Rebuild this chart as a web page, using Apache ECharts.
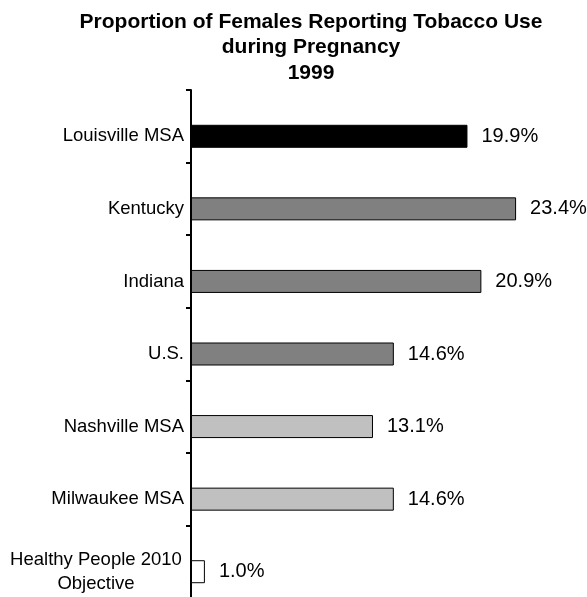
<!DOCTYPE html>
<html>
<head>
<meta charset="utf-8">
<script src="https://cdn.jsdelivr.net/npm/echarts@6/dist/echarts.min.js"></script>
<style>html,body{margin:0;padding:0;background:#fff;overflow:hidden}#c{width:587px;height:610px}</style>
</head>
<body>
<div id="c"></div>
<script>
const titleText = 'Proportion of Females Reporting Tobacco Use\nduring Pregnancy\n1999';
const categories = ['Louisville MSA', 'Kentucky', 'Indiana', 'U.S.', 'Nashville MSA', 'Milwaukee MSA', 'Healthy People 2010\nObjective'];
const values = [19.9, 23.4, 20.9, 14.6, 13.1, 14.6, 1.0];
const barColors = ['#000000', '#808080', '#808080', '#808080', '#c0c0c0', '#c0c0c0', '#ffffff'];

const FONT = 'Liberation Sans, Arial, sans-serif';
const chart = echarts.init(document.getElementById('c'));
chart.setOption({
  backgroundColor: '#ffffff',
  animation: false,
  title: {
    text: titleText,
    left: 306,
    textAlign: 'center',
    top: 4,
    textStyle: { fontFamily: FONT, fontWeight: 'bold', fontSize: 21, lineHeight: 25.5, color: '#000' }
  },
  grid: [
    { left: 191, right: 7, top: 100, bottom: 2 },
    { left: 191, right: 7, top: 90, bottom: 12 }
  ],
  xAxis: [
    { gridIndex: 0, type: 'value', min: 0, max: 28, show: false },
    { gridIndex: 1, type: 'value', min: 0, max: 28, show: false }
  ],
  yAxis: [
    {
      gridIndex: 0, type: 'category', data: categories, inverse: true,
      axisLine: { show: false }, axisTick: { show: false }, splitLine: { show: false },
      axisLabel: {
        margin: 7, color: '#000', fontFamily: FONT, fontSize: 18.5,
        formatter: function (v) {
          if (v.indexOf('\n') >= 0) {
            return v.split('\n').map(s => '{c|' + s + '}').join('\n');
          }
          return v;
        },
        rich: { c: { width: 176, align: 'center', fontFamily: FONT, fontSize: 18.5, lineHeight: 24, color: '#000' } }
      }
    },
    {
      gridIndex: 1, type: 'category', data: categories, inverse: true,
      axisLine: { show: true, lineStyle: { color: '#000', width: 2 } },
      axisTick: { show: true, inside: false, length: 5, lineStyle: { color: '#000', width: 2 } },
      axisLabel: { show: false }, splitLine: { show: false }
    }
  ],
  series: [{
    type: 'bar',
    xAxisIndex: 0, yAxisIndex: 0,
    barWidth: 23,
    data: values.map((v, i) => ({ value: v, itemStyle: { color: barColors[i] } })),
    itemStyle: { borderColor: '#000', borderWidth: 1 },
    label: {
      show: true, position: 'right', distance: 14,
      formatter: p => p.value.toFixed(1) + '%',
      color: '#000', fontFamily: FONT, fontSize: 20
    }
  }]
});
</script>
</body>
</html>
